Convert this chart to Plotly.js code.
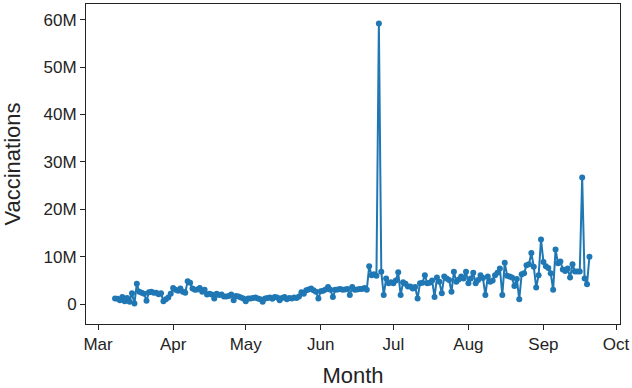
<!DOCTYPE html>
<html>
<head>
<meta charset="utf-8">
<script src="https://cdn.plot.ly/plotly-3.0.1.min.js"></script>
<style>html,body{margin:0;padding:0;background:#fff;}#chart{width:632px;height:388px;}</style>
</head>
<body>
<div id="chart"></div>
<script>
// Daily vaccinations (millions), one array per month, starting at the given day
var marStart = '2021-03-08';
var marValues = [1.2, 1.1, 0.8, 1.5, 0.6, 1.3, 0.5, 2.3, 0.1, 4.3, 2.6, 2.4, 2.2, 0.7, 2.5, 2.6, 2.4, 2.4, 2.1, 2.3, 0.6, 1.0, 1.4, 2.2];
var aprStart = '2021-04-01';
var aprValues = [3.4, 3.0, 2.8, 3.3, 2.6, 2.4, 4.8, 4.5, 3.3, 3.0, 3.1, 3.4, 2.6, 3.0, 2.0, 2.2, 2.0, 1.2, 2.2, 1.9, 2.0, 1.6, 1.6, 1.7, 2.0, 0.8, 1.7, 1.6, 1.4, 1.2];
var mayStart = '2021-05-01';
var mayValues = [0.6, 1.2, 1.2, 1.3, 1.4, 1.2, 1.0, 0.5, 1.2, 1.3, 1.4, 1.1, 1.5, 1.4, 0.8, 1.3, 1.5, 1.0, 1.3, 1.2, 1.4, 1.3, 1.6, 2.5, 2.2, 2.9, 3.1, 3.3, 2.9, 2.6, 1.2];
var junStart = '2021-06-01';
var junValues = [2.7, 2.8, 3.1, 3.6, 3.0, 1.5, 3.0, 3.1, 3.2, 3.0, 3.1, 3.2, 1.9, 3.6, 3.0, 3.1, 3.2, 3.2, 3.4, 3.0, 8.0, 6.1, 6.3, 6.0, 59.2, 6.8, 1.9, 5.4, 4.4, 4.6];
var julStart = '2021-07-01';
var julValues = [4.4, 5.0, 6.7, 1.9, 4.6, 4.3, 3.7, 3.7, 3.3, 3.6, 1.2, 4.4, 4.5, 6.1, 4.4, 4.5, 5.0, 1.5, 5.6, 4.7, 2.3, 5.8, 5.4, 5.1, 2.6, 6.8, 4.7, 5.2, 5.8, 5.4, 6.8];
var augStart = '2021-08-01';
var augValues = [4.4, 5.4, 6.6, 4.4, 5.1, 6.1, 5.5, 1.9, 5.8, 4.7, 5.0, 6.1, 6.6, 7.5, 1.9, 8.7, 6.0, 5.8, 5.6, 3.8, 5.3, 1.0, 6.3, 6.5, 8.2, 8.4, 10.8, 7.9, 3.5, 6.1, 13.6];
var sepStart = '2021-09-01';
var sepValues = [8.9, 8.0, 7.6, 6.5, 3.0, 11.5, 8.6, 9.0, 7.3, 7.0, 7.5, 5.6, 8.4, 6.9, 6.9, 6.9, 26.7, 5.4, 4.2, 10.0];

var yTickVals = [0, 10e6, 20e6, 30e6, 40e6, 50e6, 60e6];
var yTickText = ['0', '10M', '20M', '30M', '40M', '50M', '60M'];
var xTickVals = ['2021-03-01', '2021-04-01', '2021-05-01', '2021-06-01', '2021-07-01', '2021-08-01', '2021-09-01', '2021-10-01'];
var xTickText = ['Mar', 'Apr', 'May', 'Jun', 'Jul', 'Aug', 'Sep', 'Oct'];

var segments = [[marStart, marValues], [aprStart, aprValues], [mayStart, mayValues], [junStart, junValues],
                [julStart, julValues], [augStart, augValues], [sepStart, sepValues]];
var dates = [], values = [];
segments.forEach(function (seg) {
  var p = seg[0].split('-');
  for (var i = 0; i < seg[1].length; i++) {
    var d = new Date(Date.UTC(+p[0], +p[1] - 1, +p[2] + i));
    dates.push(d.toISOString().slice(0, 10));
    values.push(seg[1][i] * 1e6);
  }
});

var ink = 'rgb(36,36,36)';
var trace = {
  x: dates, y: values, type: 'scatter', mode: 'lines+markers',
  line: {color: '#1f77b4', width: 2},
  marker: {color: '#1f77b4', size: 6},
  hoverinfo: 'skip'
};
var layout = {
  width: 632, height: 388,
  margin: {l: 86, r: 12, t: 4, b: 64},
  paper_bgcolor: '#fff', plot_bgcolor: '#fff',
  font: {family: '"Liberation Sans", Arial, sans-serif', size: 17, color: ink},
  showlegend: false,
  xaxis: {
    type: 'date', range: ['2021-02-24', '2021-10-02 15:00'],
    tickvals: xTickVals, ticktext: xTickText,
    showline: true, linecolor: ink, linewidth: 1, mirror: true,
    ticks: 'outside', ticklen: 5, tickcolor: ink, tickwidth: 1,
    showgrid: false, zeroline: false,
    tickfont: {size: 17, color: ink},
    title: {text: 'Month', font: {size: 22, color: ink}, standoff: 18}
  },
  yaxis: {
    range: [-4.2e6, 63.3e6],
    tickvals: yTickVals, ticktext: yTickText,
    showline: true, linecolor: ink, linewidth: 1, mirror: true,
    ticks: 'outside', ticklen: 5, tickcolor: ink, tickwidth: 1,
    showgrid: false, zeroline: false,
    tickfont: {size: 17, color: ink},
    title: {text: 'Vaccinations', font: {size: 22, color: ink}, standoff: 19}
  }
};
Plotly.newPlot('chart', [trace], layout, {displayModeBar: false, staticPlot: true});
</script>
</body>
</html>
